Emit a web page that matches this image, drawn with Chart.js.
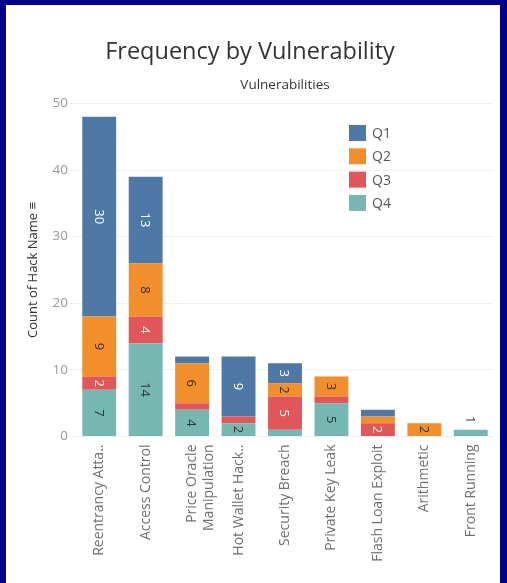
<!DOCTYPE html>
<html>
<head>
<meta charset="utf-8">
<script src="https://cdn.jsdelivr.net/npm/chart.js@4.4.1/dist/chart.umd.min.js"></script>
<style>
  html, body { margin: 0; padding: 0; }
  body { width: 507px; height: 583px; background: #00008a; position: relative; overflow: hidden; }
  #panel { position: absolute; left: 6px; top: 5px; width: 494px; height: 578px; background: #ffffff; }
  canvas { display: block; }
</style>
</head>
<body>
<div id="panel"><canvas id="c" width="494" height="578"></canvas></div>
<script>
const categories = ["Reentrancy Atta..", "Access Control", ["Price Oracle", "Manipulation"], "Hot Wallet Hack..", "Security Breach", "Private Key Leak", "Flash Loan Exploit", "Arithmetic", "Front Running"];
const seriesNames = ["Q1", "Q2", "Q3", "Q4"];
const q1 = [30, 13, 1, 9, 3, 0, 1, 0, 0];
const q2 = [9, 8, 6, 0, 2, 3, 1, 2, 0];
const q3 = [2, 4, 1, 1, 5, 1, 2, 0, 0];
const q4 = [7, 14, 4, 2, 1, 5, 0, 0, 1];
const yTicks = [0, 10, 20, 30, 40, 50];

const FONT = "'Open Sans', 'Noto Sans', sans-serif";

const valueLabels = {
  id: 'valueLabels',
  afterDatasetsDraw(chart) {
    const ctx = chart.ctx;
    const ds = chart.data.datasets;
    const n = chart.data.labels.length;
    ctx.save();
    ctx.font = "13px " + FONT;
    ctx.textAlign = 'center';
    ctx.textBaseline = 'middle';
    for (let i = 0; i < n; i++) {
      const nonZero = ds.filter(d => d.data[i] > 0).length;
      ds.forEach((d, di) => {
        const v = d.data[i];
        if (!v) return;
        const el = chart.getDatasetMeta(di).data[i];
        let x = el.x, y;
        if (v >= 2) {
          y = (el.y + el.base) / 2;
          ctx.fillStyle = d.labelColor;
        } else if (nonZero === 1) {
          y = el.y - 10;
          ctx.fillStyle = '#333333';
        } else return;
        ctx.save();
        ctx.translate(x, y);
        ctx.rotate(Math.PI / 2);
        ctx.fillText(String(v), 0, 1);
        ctx.restore();
      });
    }
    ctx.restore();
  }
};

const innerLegend = {
  id: 'innerLegend',
  afterDraw(chart) {
    const ctx = chart.ctx;
    const ds = chart.data.datasets.slice().reverse();
    ctx.save();
    ctx.font = "14px " + FONT;
    ctx.textBaseline = 'middle';
    ctx.textAlign = 'left';
    ds.forEach((d, k) => {
      const cy = 128 + k * 23.3;
      ctx.fillStyle = d.backgroundColor;
      ctx.fillRect(343, cy - 8, 17, 16);
      ctx.fillStyle = '#555555';
      ctx.fillText(d.label, 366, cy + 1);
    });
    ctx.restore();
  }
};

const colors = { Q1: '#4e79a7', Q2: '#f28e2b', Q3: '#e15759', Q4: '#76b7b2' };
const labelColors = { Q1: '#ffffff', Q2: '#333333', Q3: '#ffffff', Q4: '#333333' };
const seriesData = { Q1: q1, Q2: q2, Q3: q3, Q4: q4 };

const datasets = seriesNames.slice().reverse().map(name => ({
  label: name,
  data: seriesData[name],
  backgroundColor: colors[name],
  labelColor: labelColors[name],
  borderWidth: 0,
  barPercentage: 0.73,
  categoryPercentage: 1.0
}));

new Chart(document.getElementById('c'), {
  type: 'bar',
  data: { labels: categories, datasets },
  options: {
    responsive: false,
    animation: false,
    layout: { padding: { left: 0, right: 6, top: 0, bottom: 0 } },
    plugins: {
      legend: { display: false },
      tooltip: { enabled: false },
      title: {
        display: true,
        text: 'Frequency by Vulnerability',
        color: '#333333',
        font: { family: FONT, size: 23.5, weight: 'normal' },
        padding: { top: 33, bottom: 7 }
      },
      subtitle: {
        display: true,
        fullSize: false,
        text: 'Vulnerabilities',
        color: '#333333',
        font: { family: FONT, size: 13.5, weight: 'normal' },
        padding: { top: 4, bottom: 10 }
      }
    },
    scales: {
      x: {
        stacked: true,
        grid: { display: false, drawTicks: false },
        border: { display: false },
        ticks: {
          color: '#707070',
          font: { family: FONT, size: 14 },
          minRotation: 90,
          maxRotation: 90,
          autoSkip: false,
          padding: 8
        },
        afterFit(scale) { scale.height = 146.5; }
      },
      y: {
        stacked: true,
        min: 0,
        max: 50,
        afterBuildTicks(scale) { scale.ticks = yTicks.map(v => ({ value: v })); },
        grid: { color: '#f0f0f0', drawTicks: true, tickLength: 6, tickColor: '#f0f0f0' },
        border: { display: false },
        ticks: {
          color: '#999999',
          font: { family: FONT, size: 13.5 },
          padding: 2
        },
        title: {
          display: true,
          text: 'Count of Hack Name ≡',
          color: '#333333',
          font: { family: FONT, size: 13 },
          padding: { top: 19, bottom: 0 }
        },
        afterFit(scale) { scale.width = 70; }
      }
    }
  },
  plugins: [valueLabels, innerLegend]
});
</script>
</body>
</html>
